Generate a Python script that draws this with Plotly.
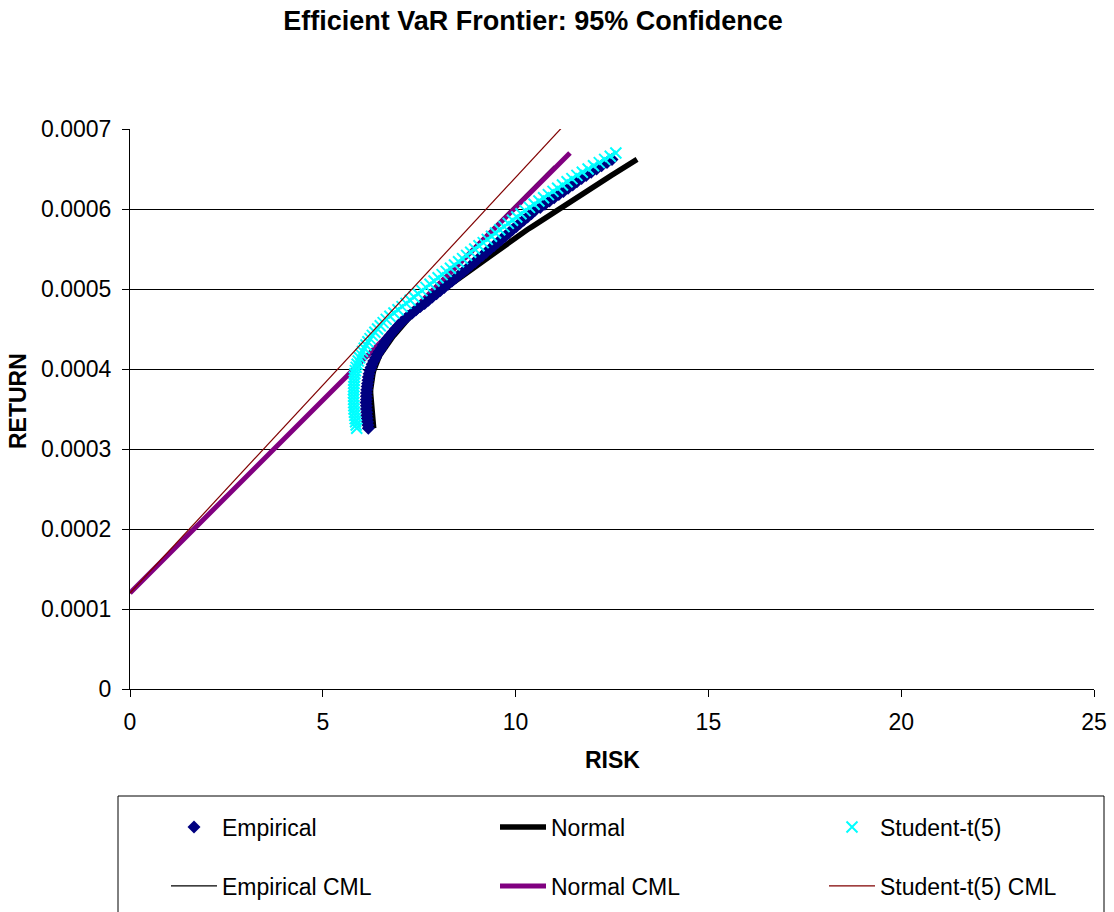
import plotly.graph_objects as go

# ---------------- data ----------------
returns = [0.000326, 0.000330, 0.000334, 0.000338, 0.000342, 0.000346, 0.000350, 0.000354,
           0.000358, 0.000362, 0.000366, 0.000370, 0.000374, 0.000378, 0.000382, 0.000386,
           0.000390, 0.000394, 0.000398, 0.000402, 0.000406, 0.000410, 0.000414, 0.000418,
           0.000422, 0.000426, 0.000430, 0.000434, 0.000438, 0.000442, 0.000446, 0.000450,
           0.000454, 0.000458, 0.000462, 0.000466, 0.000470, 0.000474, 0.000478, 0.000482,
           0.000486, 0.000490, 0.000494, 0.000498, 0.000502, 0.000506, 0.000510, 0.000514,
           0.000518, 0.000522, 0.000526, 0.000530, 0.000534, 0.000538, 0.000542, 0.000546,
           0.000550, 0.000554, 0.000558, 0.000562, 0.000566, 0.000570, 0.000574, 0.000578,
           0.000582, 0.000586, 0.000590, 0.000594, 0.000598, 0.000602, 0.000606, 0.000610,
           0.000614, 0.000618, 0.000622, 0.000626, 0.000630, 0.000634, 0.000638, 0.000642,
           0.000646, 0.000650, 0.000654, 0.000658, 0.000662, 0.000666, 0.000670]

empirical_risk = [6.18, 6.17, 6.16, 6.15, 6.14, 6.14, 6.13, 6.13, 6.12, 6.13,
                  6.13, 6.13, 6.14, 6.15, 6.16, 6.17, 6.18, 6.20, 6.22, 6.25,
                  6.28, 6.32, 6.37, 6.41, 6.46, 6.52, 6.57, 6.62, 6.68, 6.74,
                  6.81, 6.88, 6.96, 7.03, 7.12, 7.21, 7.32, 7.42, 7.53, 7.64,
                  7.74, 7.84, 7.95, 8.05, 8.15, 8.25, 8.35, 8.45, 8.55, 8.65,
                  8.75, 8.85, 8.95, 9.04, 9.14, 9.24, 9.34, 9.44, 9.54, 9.63,
                  9.73, 9.82, 9.92, 10.02, 10.11, 10.21, 10.31, 10.41, 10.50, 10.64,
                  10.76, 10.88, 11.00, 11.12, 11.24, 11.36, 11.48, 11.59, 11.71, 11.83,
                  11.96, 12.10, 12.23, 12.37, 12.50]

normal_risk = [6.32, 6.31, 6.30, 6.29, 6.285, 6.275, 6.27, 6.262, 6.255, 6.25,
               6.245, 6.24, 6.24, 6.245, 6.255, 6.27, 6.285, 6.30, 6.32, 6.345,
               6.375, 6.41, 6.45, 6.49, 6.54, 6.595, 6.66, 6.72, 6.78, 6.845,
               6.91, 6.98, 7.05, 7.12, 7.20, 7.29, 7.385, 7.48, 7.58, 7.68,
               7.785, 7.89, 7.995, 8.10, 8.205, 8.32, 8.43, 8.54, 8.655, 8.765,
               8.88, 8.99, 9.10, 9.215, 9.325, 9.44, 9.55, 9.675, 9.80, 9.93,
               10.05, 10.18, 10.30, 10.43, 10.555, 10.68, 10.81, 10.93, 11.06, 11.185,
               11.315, 11.445, 11.575, 11.705, 11.835, 11.965, 12.095, 12.225, 12.355, 12.485,
               12.62, 12.75, 12.885, 13.02, 13.15]

student_risk = [5.88, 5.865, 5.85, 5.84, 5.83, 5.82, 5.81, 5.805, 5.80, 5.80,
                5.80, 5.80, 5.80, 5.805, 5.81, 5.815, 5.82, 5.83, 5.845, 5.865,
                5.89, 5.92, 5.955, 5.99, 6.03, 6.075, 6.12, 6.17, 6.225, 6.285,
                6.35, 6.42, 6.49, 6.565, 6.645, 6.74, 6.845, 6.95, 7.055, 7.16,
                7.265, 7.365, 7.47, 7.57, 7.675, 7.78, 7.885, 7.99, 8.095, 8.20,
                8.31, 8.415, 8.52, 8.625, 8.73, 8.835, 8.94, 9.05, 9.16, 9.265,
                9.375, 9.48, 9.59, 9.70, 9.81, 9.92, 10.03, 10.14, 10.245, 10.36,
                10.48, 10.605, 10.725, 10.85, 10.97, 11.09, 11.215, 11.335, 11.46, 11.59,
                11.73, 11.88, 12.02, 12.17, 12.31, 12.455, 12.60]

empirical_cml_risk = [0.0, 11.0]
empirical_cml_return = [0.00012, 0.000654]
normal_cml_risk = [0.0, 11.41]
normal_cml_return = [0.00012, 0.00067]
student_cml_risk = [0.0, 11.30]
student_cml_return = [0.00012, 0.000707]

x_ticks = [0, 5, 10, 15, 20, 25]
y_ticks = [0, 0.0001, 0.0002, 0.0003, 0.0004, 0.0005, 0.0006, 0.0007]

# ---------------- figure ----------------
FONT = "Liberation Sans, Arial, sans-serif"
W, H = 1114, 912
L, R, T, B = 130, 20, 129, 223
PW, PH = W - L - R, H - T - B


def px_x(px):
    return (px - L) / PW


def px_y(py):
    return (H - B - py) / PH


fig = go.Figure()
fig.add_trace(go.Scatter(x=empirical_cml_risk, y=empirical_cml_return, mode="lines",
                         line=dict(color="#000000", width=1.2),
                         name="Empirical CML", legend="legend4"))
fig.add_trace(go.Scatter(x=normal_cml_risk, y=normal_cml_return, mode="lines",
                         line=dict(color="#800080", width=5),
                         name="Normal CML", legend="legend5"))
fig.add_trace(go.Scatter(x=normal_risk, y=returns[:len(normal_risk)], mode="lines",
                         line=dict(color="#000000", width=5.5),
                         name="Normal", legend="legend2"))
fig.add_trace(go.Scatter(x=empirical_risk, y=returns[:len(empirical_risk)], mode="markers",
                         marker=dict(symbol="diamond", size=10, color="#000080"),
                         name="Empirical", legend="legend"))
fig.add_trace(go.Scatter(x=student_risk, y=returns, mode="markers",
                         marker=dict(symbol="x-thin", size=11,
                                     line=dict(color="#00FFFF", width=2)),
                         name="Student-t(5)", legend="legend3"))
fig.add_trace(go.Scatter(x=student_cml_risk, y=student_cml_return, mode="lines",
                         line=dict(color="#800000", width=1.2),
                         name="Student-t(5) CML", legend="legend6"))


def leg(xpx, ypx):
    return dict(x=xpx / W, y=1 - ypx / H, xref="container", yref="container",
                xanchor="left", yanchor="middle",
                orientation="v", bgcolor="rgba(0,0,0,0)", borderwidth=0,
                itemwidth=46, font=dict(family=FONT, size=23, color="#000000"))


col = [166, 495, 824]
row = [827, 886]

fig.update_layout(
    width=W, height=H,
    margin=dict(l=L, r=R, t=T, b=B, autoexpand=False),
    paper_bgcolor="white", plot_bgcolor="white",
    font=dict(family=FONT, size=23, color="#000000"),
    title=dict(text="<b>Efficient VaR Frontier: 95% Confidence</b>",
               font=dict(family=FONT, size=27, color="#000000"),
               x=533 / W, xref="container", xanchor="center",
               y=1 - 21 / H, yref="container", yanchor="middle"),
    showlegend=True,
    legend=leg(col[0], row[0]),
    legend2=leg(col[1], row[0]),
    legend3=leg(col[2], row[0]),
    legend4=leg(col[0], row[1]),
    legend5=leg(col[1], row[1]),
    legend6=leg(col[2], row[1]),
    xaxis=dict(range=[0, 25], tickvals=x_ticks, showgrid=False, zeroline=False,
               showline=True, linecolor="#000000", linewidth=1,
               ticks="outside", ticklen=7, tickcolor="#000000",
               tickfont=dict(family=FONT, size=23, color="#000000"),
               ticklabelstandoff=5, automargin=False),
    yaxis=dict(range=[0, 0.0007], tickvals=y_ticks, tickformat=".4~f",
               showgrid=True, gridcolor="#000000", gridwidth=1, zeroline=False,
               showline=True, linecolor="#000000", linewidth=1,
               ticks="outside", ticklen=7, tickcolor="#000000",
               tickfont=dict(family=FONT, size=23, color="#000000"),
               ticklabelstandoff=6, automargin=False),
    annotations=[
        dict(text="<b>RISK</b>", x=0.5, y=px_y(760), xref="paper", yref="paper",
             xanchor="center", yanchor="middle", showarrow=False,
             font=dict(family=FONT, size=23, color="#000000")),
        dict(text="<b>RETURN</b>", x=px_x(18), y=px_y(401), xref="paper", yref="paper",
             xanchor="center", yanchor="middle", showarrow=False, textangle=-90,
             font=dict(family=FONT, size=23, color="#000000")),
    ],
    shapes=[
        dict(type="rect", xref="paper", yref="paper",
             x0=px_x(118), x1=px_x(1104), y0=px_y(918), y1=px_y(796),
             line=dict(color="#000000", width=1), fillcolor="rgba(0,0,0,0)"),
    ],
)

fig.write_html("out.html",
               config={"displayModeBar": False},
               post_script="document.body.style.margin='0';"
                           "document.body.style.overflow='hidden';")
